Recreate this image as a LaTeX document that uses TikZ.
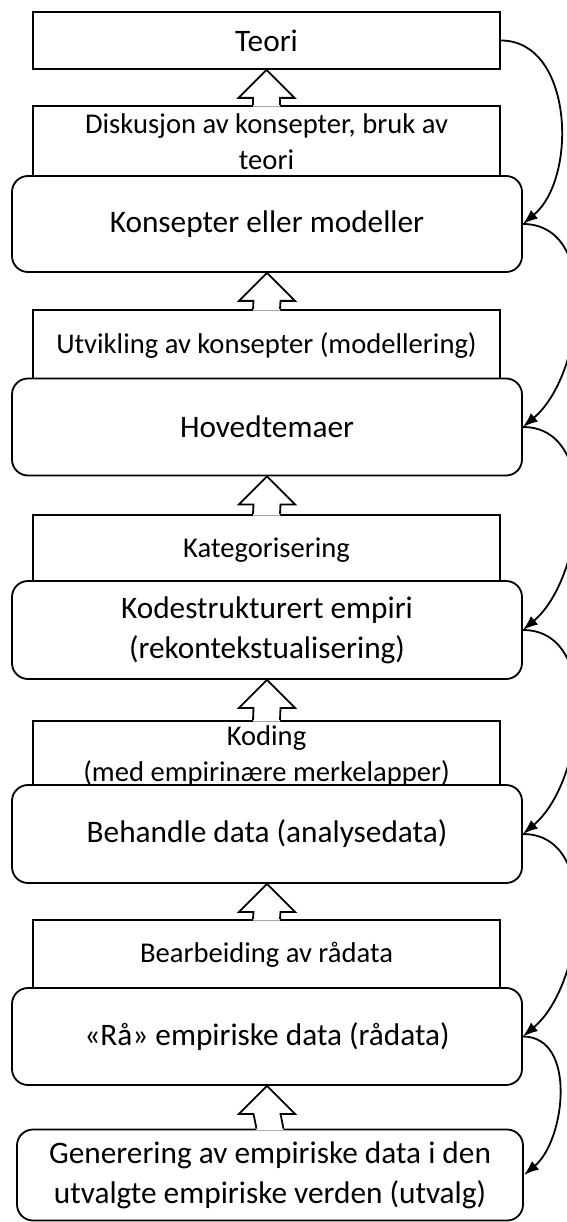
\documentclass[tikz,border=0pt]{standalone}
\usepackage{fontspec}
\setmainfont{Carlito}
\usetikzlibrary{calc,arrows.meta}
\tikzset{
  base/.style={draw=black, line width=1.8pt, fill=white, inner sep=0pt, align=center},
  labelbox/.style={base, rectangle, minimum width=467pt},
  mainbox/.style={base, rectangle, rounded corners=16pt, minimum width=510pt},
  maintext/.style={font=\fontsize{31.3}{40}\selectfont},
  labtext/.style={font=\fontsize{28.6}{36}\selectfont},
  flow/.style={line width=1.8pt, -{Latex[length=15pt,width=11pt]}, out=0, in=40, looseness=1.0},
  hollow/.style={line width=1.8pt, line join=miter},
}
\newcommand{\blockarr}[2]{%
  \fill[white] ($(#1.north)+(-13.5,1.5)$) -- ($(#2.south)+(-13.5,28)$) -- ($(#2.south)+(-28,28)$) -- (#2.south) -- ($(#2.south)+(28,28)$) -- ($(#2.south)+(13.5,28)$) -- ($(#1.north)+(13.5,1.5)$) -- cycle;
  \draw[hollow] ($(#1.north)+(-13.5,0)$) -- ($(#2.south)+(-13.5,28)$) -- ($(#2.south)+(-28,28)$) -- (#2.south) -- ($(#2.south)+(28,28)$) -- ($(#2.south)+(13.5,28)$) -- ($(#1.north)+(13.5,0)$);
}
\begin{document}
\begin{tikzpicture}[x=1pt, y=-1pt]
\useasboundingbox (0,0) rectangle (566,1222);
% label boxes first
\node[labelbox, labtext, minimum height=72pt] (lab1) at (266.5,142) {Diskusjon av konsepter, bruk av\\teori};
\node[labelbox, labtext, minimum height=70pt] (lab2) at (266.5,345) {Utvikling av konsepter (modellering)};
\node[labelbox, labtext, minimum height=70pt] (lab3) at (266.5,550) {Kategorisering};
\node[labelbox, labtext, minimum height=70pt] (lab4) at (266.5,756) {Koding\\(med empirinære merkelapper)};
\node[labelbox, labtext, minimum height=70pt] (lab5) at (266.5,955) {Bearbeiding av rådata};
% main boxes
\node[base, rectangle, maintext, minimum width=467pt, minimum height=57pt] (teori) at (266.5,40.5) {Teori};
\node[mainbox, maintext, minimum height=96pt] (kons) at (267,224) {Konsepter eller modeller};
\node[mainbox, maintext, minimum height=97pt] (hoved) at (267,427) {Hovedtemaer};
\node[mainbox, maintext, minimum height=98pt] (kode) at (267,630) {Kodestrukturert empiri\\(rekontekstualisering)};
\node[mainbox, maintext, minimum height=98pt] (behandle) at (267,834) {Behandle data (analysedata)};
\node[mainbox, maintext, minimum height=97pt] (raa) at (267,1036.5) {«Rå» empiriske data (rådata)};
\node[mainbox, maintext, minimum width=506pt, minimum height=91pt] (gen) at (270,1175) {Generering av empiriske data i den\\utvalgte empiriske verden (utvalg)};
% block arrows
\blockarr{lab1}{teori}
\blockarr{lab2}{kons}
\blockarr{lab3}{hoved}
\blockarr{lab4}{kode}
\blockarr{lab5}{behandle}
\blockarr{gen}{raa}
% curved flow arrows
\draw[flow] (teori.east) to (kons.east);
\draw[flow] (kons.east) to (hoved.east);
\draw[flow] (hoved.east) to (kode.east);
\draw[flow] (kode.east) to (behandle.east);
\draw[flow] (behandle.east) to (raa.east);
\draw[flow] (raa.east) to (gen.east);
\end{tikzpicture}
\end{document}
